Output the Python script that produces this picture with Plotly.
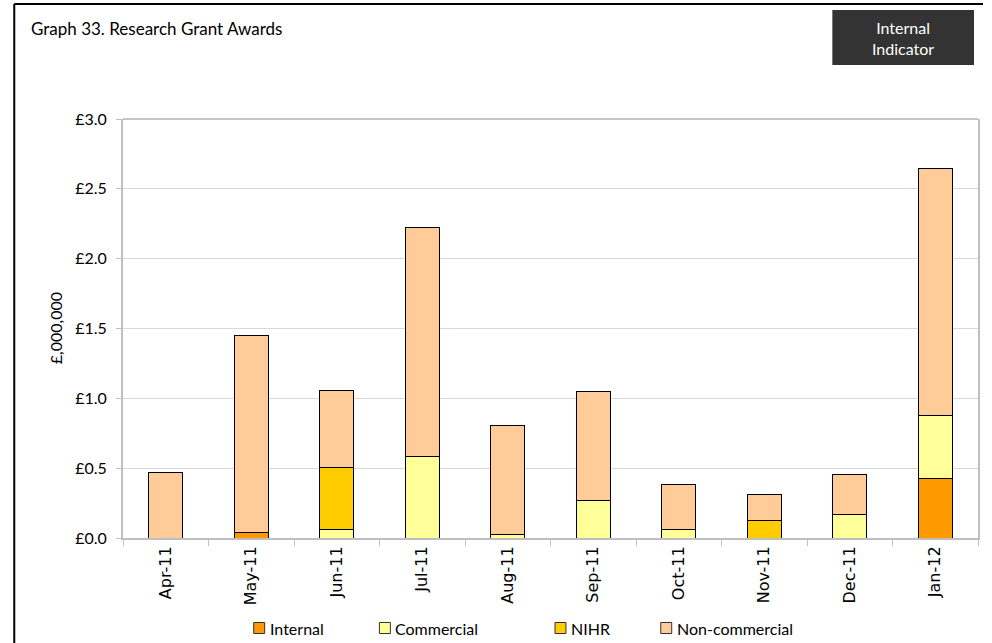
import plotly.graph_objects as go

# Monthly research grant awards (£ millions), by funding source
months = ["Apr-11", "May-11", "Jun-11", "Jul-11", "Aug-11",
          "Sep-11", "Oct-11", "Nov-11", "Dec-11", "Jan-12"]
internal = [0, 0.042, 0, 0, 0, 0, 0, 0, 0, 0.425]
commercial = [0, 0, 0.059, 0.582, 0.027, 0.271, 0.059, 0, 0.166, 0.454]
nihr = [0, 0, 0.449, 0, 0, 0, 0, 0.128, 0, 0]
non_commercial = [0.468, 1.406, 0.545, 1.638, 0.780, 0.780, 0.325, 0.182, 0.287, 1.767]

series_names = ["Internal", "Commercial", "NIHR", "Non-commercial"]
series_values = [internal, commercial, nihr, non_commercial]
series_colors = ["#FF9900", "#FFFF99", "#FFCC00", "#FFCC99"]

y_ticks = [0, 0.5, 1.0, 1.5, 2.0, 2.5, 3.0]
y_tick_labels = ["£0.0", "£0.5", "£1.0", "£1.5", "£2.0", "£2.5", "£3.0"]

# page / plot-area geometry in pixels
W, H = 992, 643
L, R, T, B = 123, 12, 119, 105
PW, PH = W - L - R, H - T - B


def px(x):
    return (x - L) / PW


def py(y):
    return (H - B - y) / PH


SANS = "Lato, 'Open Sans', sans-serif"

fig = go.Figure()
for name, vals, col in zip(series_names, series_values, series_colors):
    fig.add_trace(go.Bar(
        x=months,
        y=[v if v else None for v in vals],
        name=name,
        marker=dict(color=col, line=dict(color="#000000", width=1)),
        showlegend=False,
    ))

shapes = [
    # outer frame (top and left edges)
    dict(type="line", xref="paper", yref="paper", x0=px(14), x1=px(985), y0=py(4), y1=py(4),
         line=dict(color="#000000", width=2)),
    dict(type="line", xref="paper", yref="paper", x0=px(14), x1=px(14), y0=py(4), y1=py(645),
         line=dict(color="#000000", width=2)),
    # top border of plot area
    dict(type="line", xref="paper", yref="paper", x0=0, x1=1, y0=1, y1=1,
         line=dict(color="#8C8C8C", width=1)),
    # indicator badge
    dict(type="rect", xref="paper", yref="paper", x0=px(834), x1=px(976), y0=py(10), y1=py(65),
         fillcolor="#333333", line=dict(width=0)),
]

annotations = [
    dict(text="Graph 33. Research Grant Awards", xref="paper", yref="paper",
         x=px(29), y=py(29), xanchor="left", yanchor="middle", showarrow=False,
         font=dict(family=SANS, size=17, color="#000000")),
    dict(text="Internal<br>Indicator", xref="paper", yref="paper",
         x=px(905), y=py(38), xanchor="center", yanchor="middle", showarrow=False,
         font=dict(family=SANS, size=16, color="#FFFFFF")),
    dict(text="£,000,000", xref="paper", yref="paper", textangle=-90,
         x=px(55), y=py(328), xanchor="center", yanchor="middle", showarrow=False,
         font=dict(family=SANS, size=16, color="#000000")),
]

# legend row drawn beneath the axis
legend_box_x = [254, 380, 556, 662]
legend_y = 628
for name, col, bx in zip(series_names, series_colors, legend_box_x):
    shapes.append(dict(type="rect", xref="paper", yref="paper",
                       x0=px(bx), x1=px(bx + 11), y0=py(legend_y - 5.5), y1=py(legend_y + 5.5),
                       fillcolor=col, line=dict(color="#333333", width=1)))
    annotations.append(dict(text=name, xref="paper", yref="paper",
                            x=px(bx + 14), y=py(legend_y), xanchor="left", yanchor="middle",
                            showarrow=False, font=dict(family=SANS, size=16, color="#000000")))

fig.update_layout(
    width=W, height=H,
    margin=dict(l=L, r=R, t=T, b=B, pad=0),
    barmode="stack",
    bargap=0.6,
    plot_bgcolor="#FFFFFF",
    paper_bgcolor="#FFFFFF",
    shapes=shapes,
    annotations=annotations,
    showlegend=False,
    xaxis=dict(
        type="category",
        showline=True, linecolor="#BFBFBF", linewidth=2,
        ticks="outside", tickson="boundaries", ticklen=6, tickcolor="#BFBFBF", tickwidth=1,
        tickangle=-90,
        tickfont=dict(family="'DejaVu Sans', Verdana, sans-serif", size=16, color="#000000"),
        showgrid=False,
    ),
    yaxis=dict(
        range=[0, 3.0],
        tickmode="array",
        tickvals=y_ticks,
        ticktext=y_tick_labels,
        showline=True, linecolor="#BFBFBF", linewidth=2, mirror=True,
        ticks="outside", ticklen=5, tickcolor="#BFBFBF",
        ticklabelstandoff=6,
        tickfont=dict(family=SANS, size=16, color="#000000"),
        showgrid=True, gridcolor="#D9D9D9", gridwidth=1,
        zeroline=False,
    ),
)

fig.write_html("out.html")
